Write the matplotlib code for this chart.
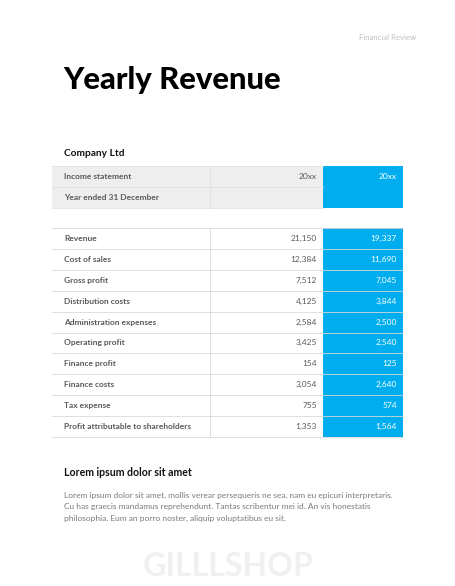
import matplotlib
matplotlib.use("Agg")
import matplotlib.pyplot as plt
from matplotlib.patches import Rectangle

plt.rcParams['font.family'] = ['Lato', 'DejaVu Sans']

# data
header_labels = ["Income statement", "Year ended 31 December"]
header_years = ["20xx", "20xx"]
labels = ["Revenue", "Cost of sales", "Gross profit", "Distribution costs",
          "Administration expenses", "Operating profit", "Finance profit",
          "Finance costs", "Tax expense", "Profit attributable to shareholders"]
prev_year = [21150, 12384, 7512, 4125, 2584, 3425, 154, 3054, 755, 1353]
curr_year = [19337, 11690, 7045, 3844, 2500, 2540, 125, 2640, 574, 1564]
body_lines = ["Lorem ipsum dolor sit amet, mollis verear persequeris ne sea, nam eu epicuri interpretaris.",
              "Cu has graecis mandamus reprehendunt. Tantas scribentur mei id. An vis honestatis",
              "philosophia. Eum an porro noster, aliquip voluptatibus eu sit."]

blue = "#00aeef"
grid = "#d9d9d9"
txt = "#595959"
fs = 6.0

fig = plt.figure(figsize=(4.56, 5.86), dpi=100)
ax = fig.add_axes([0, 0, 1, 1])
ax.set_xlim(0, 456)
ax.set_ylim(586, 0)
ax.axis("off")

# columns
x0, x1, x2, x3 = 52, 210, 323, 403

ax.text(416, 37, "Financial Review", fontsize=5.6, color="#bfbfbf", ha="right", va="center")
ax.text(63, 80, "Yearly Revenue", fontsize=22.3, fontweight="black", color="black", va="center")
ax.text(64, 154, "Company Ltd", fontsize=7.3, fontweight="bold", color="#111111", va="center")

# header table
h_top, h_row = 166, 21
for i, lab in enumerate(header_labels):
    y = h_top + i * h_row
    ax.add_patch(Rectangle((x0, y), x2 - x0, h_row, facecolor="#eeeeee", edgecolor="none"))
    ax.add_patch(Rectangle((x2, y), x3 - x2, h_row, facecolor=blue, edgecolor="none"))
    ax.text(64, y + h_row / 2, lab, fontsize=fs, fontweight="bold", color=txt, va="center")
ax.text(317, h_top + h_row / 2, header_years[0], fontsize=fs, color=txt, ha="right", va="center")
ax.text(397, h_top + h_row / 2, header_years[1], fontsize=fs, color="white", ha="right", va="center")
for i in range(3):
    ax.plot([x0, x2], [h_top + i * h_row] * 2, color="#e2e2e2", lw=0.6)
ax.plot([x1, x1], [h_top, h_top + 2 * h_row], color="#e2e2e2", lw=0.6)

# main table
t_top, r_h = 228, 20.9
n = len(labels)
ax.bar([(x2 + x3) / 2] * n, [r_h] * n, width=x3 - x2, bottom=[t_top + i * r_h for i in range(n)],
       color=blue, edgecolor="none")
for i in range(n + 1):
    ax.plot([x0, x3], [t_top + i * r_h] * 2, color=grid, lw=0.6)
ax.plot([x1, x1], [t_top, t_top + n * r_h], color=grid, lw=0.6)
for i, (lab, a, b) in enumerate(zip(labels, prev_year, curr_year)):
    yc = t_top + (i + 0.5) * r_h
    ax.text(64, yc, lab, fontsize=fs, fontweight="bold", color=txt, va="center")
    ax.text(317, yc, f"{a:,}", fontsize=fs, color=txt, ha="right", va="center")
    ax.text(397, yc, f"{b:,}", fontsize=fs, color="white", ha="right", va="center")

# text block
ax.text(64, 472, "Lorem ipsum dolor sit amet", fontsize=7.6, fontweight="bold", color="#111111", va="center")
for i, line in enumerate(body_lines):
    ax.text(64, 495 + i * 11.5, line, fontsize=6.0, color="#7a7a7a", va="center")

ax.text(228, 567, "GILLLSHOP", fontsize=23, fontweight="bold", color="#f0f0f0", ha="center", va="center")

fig.savefig("out.png", dpi=100)
